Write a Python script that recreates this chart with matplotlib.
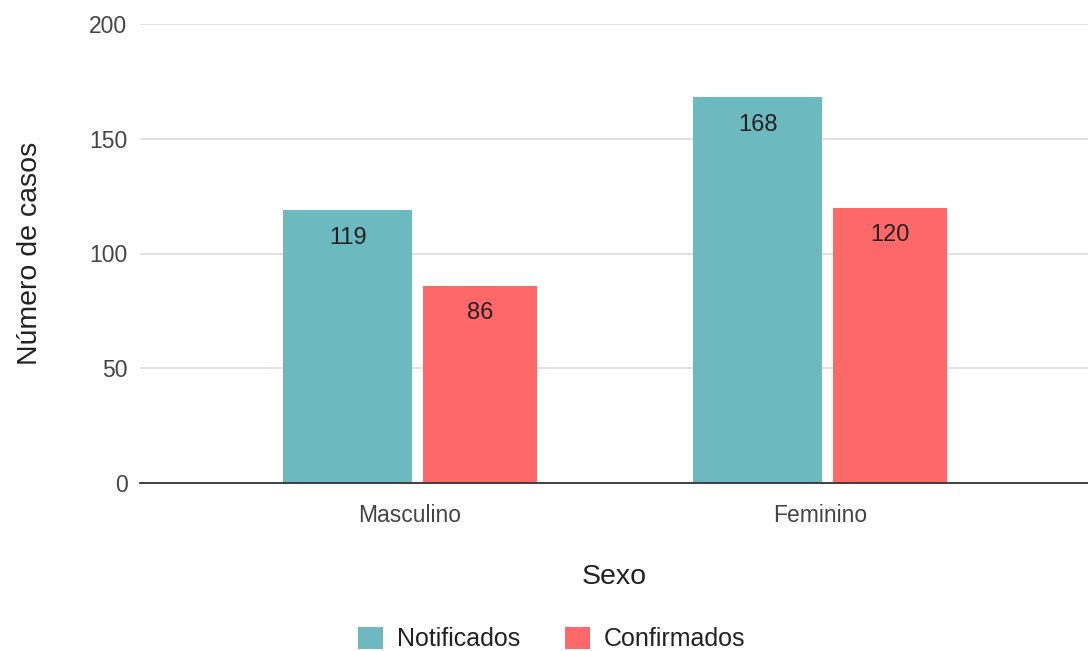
import matplotlib.pyplot as plt
import numpy as np

plt.rcParams['font.family'] = ['Liberation Sans', 'DejaVu Sans']

categories = ['Masculino', 'Feminino']
notificados = [119, 168]
confirmados = [86, 120]
series_names = ['Notificados', 'Confirmados']
y_ticks = [0, 50, 100, 150, 200]

teal = '#6cb9bf'
red = '#ff6868'

fig = plt.figure(figsize=(10.88, 6.51), dpi=100)
ax = fig.add_axes([140 / 1088, (651 - 483) / 651, 948 / 1088, 459 / 651])

x = np.arange(len(categories))
b1 = ax.bar(x - 0.152, notificados, width=0.315, color=teal, label=series_names[0], zorder=3)
b2 = ax.bar(x + 0.171, confirmados, width=0.278, color=red, label=series_names[1], zorder=3)

for bars in (b1, b2):
    for rect in bars:
        h = rect.get_height()
        ax.annotate(f'{h:.0f}', (rect.get_x() + rect.get_width() / 2, h),
                    xytext=(0, -20), textcoords='offset points',
                    ha='center', va='center', fontsize=17, color='#222222', zorder=4)

ax.set_xlim(-0.6585, 1.6537)
ax.set_ylim(0, 200)
ax.set_yticks(y_ticks)
ax.set_xticks(x)
ax.set_xticklabels(categories)
ax.tick_params(axis='both', length=0, labelsize=16.5, labelcolor='#444444')
ax.tick_params(axis='y', pad=9)
ax.tick_params(axis='x', pad=15)

ax.grid(axis='y', color='#dcdcdc', linewidth=1.2, zorder=0)
for s in ['top', 'right', 'left']:
    ax.spines[s].set_visible(False)
ax.spines['bottom'].set_color('#333333')
ax.spines['bottom'].set_linewidth(1.3)
ax.spines['bottom'].set_zorder(5)

ax.set_xlabel('Sexo', fontsize=20.5, color='#222222', labelpad=27)
ax.set_ylabel('Número de casos', fontsize=20.5, color='#222222', labelpad=33)

fig.legend(handles=[b1, b2], labels=series_names, loc='center',
           bbox_to_anchor=(552 / 1088, 1 - 639 / 651), ncol=2, frameon=False,
           fontsize=18, handlelength=1.0, handleheight=1.0, handletextpad=0.55,
           columnspacing=1.8, labelcolor='#222222')

fig.savefig('out.png', dpi=100)
